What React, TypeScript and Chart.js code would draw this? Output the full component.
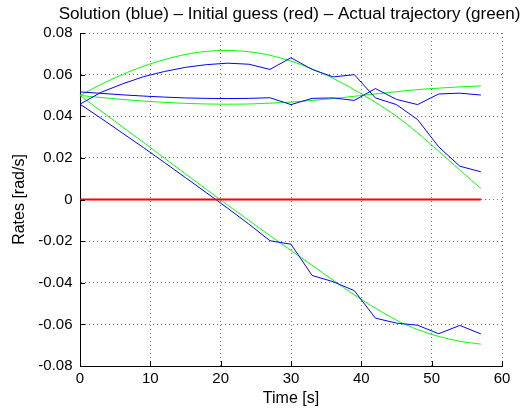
import React, { useEffect, useRef } from "react";
import { Chart, registerables } from "chart.js";

Chart.register(...registerables);

const time = [0, 3, 6, 9, 12, 15, 18, 21, 24, 27, 30, 33, 36, 39, 42, 45, 48, 51, 54, 57];

const blueA = [0.0458, 0.0515, 0.0555, 0.059, 0.0615, 0.0635, 0.0648, 0.0655, 0.065, 0.0625, 0.0681, 0.0625, 0.0589, 0.06, 0.0488, 0.0456, 0.0384, 0.0253, 0.016, 0.0133];
const blueB = [0.0517, 0.051, 0.0503, 0.0497, 0.0492, 0.0488, 0.0486, 0.0485, 0.0486, 0.0489, 0.0456, 0.0486, 0.0488, 0.0476, 0.0533, 0.0481, 0.0456, 0.0507, 0.0511, 0.0502];
const blueC = [0.0458, 0.039, 0.032, 0.025, 0.0178, 0.0105, 0.0032, -0.0042, -0.0118, -0.0198, -0.0215, -0.0365, -0.0395, -0.0438, -0.057, -0.0594, -0.0604, -0.0645, -0.0605, -0.0646];

const greenA = [0.05, 0.0553, 0.06, 0.064, 0.0672, 0.0697, 0.0712, 0.0716, 0.071, 0.0693, 0.0665, 0.0627, 0.0582, 0.0527, 0.0467, 0.04, 0.032, 0.0232, 0.0142, 0.0053];
const greenB = [0.05, 0.049, 0.0481, 0.0473, 0.0467, 0.0462, 0.0459, 0.0458, 0.0459, 0.0463, 0.0468, 0.0476, 0.0485, 0.0496, 0.0507, 0.0518, 0.0528, 0.0535, 0.0541, 0.0546];
const greenC = [0.05, 0.0425, 0.035, 0.0275, 0.0199, 0.0123, 0.0048, -0.0027, -0.01, -0.0173, -0.0245, -0.0316, -0.0388, -0.0458, -0.0522, -0.058, -0.0625, -0.0658, -0.0681, -0.0695];

const initialGuess = [0, 0, 0, 0, 0, 0, 0, 0, 0, 0, 0, 0, 0, 0, 0, 0, 0, 0, 0, 0];

const xTickValues = [0, 10, 20, 30, 40, 50, 60];
const xTickLabels = ["0", "10", "20", "30", "40", "50", "60"];
const yTickValues = [-0.08, -0.06, -0.04, -0.02, 0, 0.02, 0.04, 0.06, 0.08];
const yTickLabels = ["-0.08", "-0.06", "-0.04", "-0.02", "0", "0.02", "0.04", "0.06", "0.08"];

const titleText = "Solution (blue) \u2013 Initial guess (red) \u2013 Actual trajectory (green)";
const xTitle = "Time [s]";
const yTitle = "Rates [rad/s]";

const FONT = "'Liberation Sans', Arial, Helvetica, sans-serif";

const toPoints = (ys: number[]) => time.map((t, i) => ({ x: t, y: ys[i] }));

const innerTicks = {
  id: "innerTicks",
  afterDraw(chart: any) {
    const { ctx, chartArea } = chart;
    const xs = chart.scales.x;
    const ys = chart.scales.y;
    ctx.save();
    ctx.strokeStyle = "#000";
    ctx.lineWidth = 1;
    ctx.beginPath();
    xTickValues.forEach((v) => {
      const px = Math.round(xs.getPixelForValue(v)) + 0.5;
      ctx.moveTo(px, chartArea.bottom);
      ctx.lineTo(px, chartArea.bottom - 5);
    });
    yTickValues.forEach((v) => {
      const py = Math.round(ys.getPixelForValue(v)) + 0.5;
      ctx.moveTo(chartArea.left, py);
      ctx.lineTo(chartArea.left + 5, py);
    });
    ctx.stroke();
    ctx.fillStyle = "#000";
    ctx.font = "17.1px " + FONT;
    ctx.textAlign = "center";
    ctx.textBaseline = "middle";
    ctx.fillText(titleText, (chartArea.left + chartArea.right) / 2 - 1.5, 14);
    ctx.restore();
  },
};

export default function App() {
  const ref = useRef<HTMLCanvasElement | null>(null);

  useEffect(() => {
    if (!ref.current) return;
    const line = (data: number[], color: string, width: number, tension: number) => ({
      data: toPoints(data),
      borderColor: color,
      backgroundColor: color,
      borderWidth: width,
      pointRadius: 0,
      fill: false,
      tension,
    });
    const chart = new Chart(ref.current, {
      type: "line",
      data: {
        datasets: [
          line(initialGuess, "#ff0000", 2, 0),
          line(blueA, "#0000ff", 1, 0),
          line(blueB, "#0000ff", 1, 0),
          line(blueC, "#0000ff", 1, 0),
          line(greenA, "#00ff00", 1, 0.3),
          line(greenB, "#00ff00", 1, 0.3),
          line(greenC, "#00ff00", 1, 0.3),
        ],
      },
      options: {
        animation: false,
        responsive: false,
        maintainAspectRatio: false,
        events: [],
        layout: { padding: { left: 0, right: 21, top: 33, bottom: 0 } },
        plugins: {
          legend: { display: false },
          tooltip: { enabled: false },
          title: { display: false },
        },
        scales: {
          x: {
            type: "linear",
            min: 0,
            max: 60,
            afterFit: (s: any) => {
              s.height = 48;
            },
            afterBuildTicks: (s: any) => {
              s.ticks = xTickValues.map((v) => ({ value: v }));
            },
            ticks: {
              color: "#000",
              font: { family: FONT, size: 15 },
              padding: 4,
              maxRotation: 0,
              autoSkip: false,
              callback: (_v: any, i: number) => xTickLabels[i],
            },
            grid: { color: "rgba(0,0,0,0.55)", lineWidth: 1, drawTicks: false },
            border: { display: true, color: "#000", width: 1, dash: [1, 3] },
            title: {
              display: true,
              text: xTitle,
              color: "#000",
              font: { family: FONT, size: 16 },
              padding: { top: 0, bottom: 6 },
            },
          },
          y: {
            type: "linear",
            min: -0.08,
            max: 0.08,
            afterFit: (s: any) => {
              s.width = 80;
            },
            afterBuildTicks: (s: any) => {
              s.ticks = yTickValues.map((v) => ({ value: v }));
            },
            ticks: {
              color: "#000",
              font: { family: FONT, size: 15 },
              padding: 7.5,
              autoSkip: false,
              callback: (_v: any, i: number) => yTickLabels[i],
            },
            grid: { color: "rgba(0,0,0,0.55)", lineWidth: 1, drawTicks: false },
            border: { display: true, color: "#000", width: 1, dash: [1, 3] },
            title: {
              display: true,
              text: yTitle,
              color: "#000",
              font: { family: FONT, size: 16 },
              padding: { top: 10.4, bottom: 0 },
            },
          },
        },
      },
      plugins: [innerTicks],
    });
    return () => chart.destroy();
  }, []);

  return (
    <div style={{ position: "fixed", left: 0, top: 0, width: 523, height: 414, background: "#fff" }}>
      <canvas ref={ref} width={523} height={414} style={{ width: 523, height: 414, display: "block" }} />
    </div>
  );
}
